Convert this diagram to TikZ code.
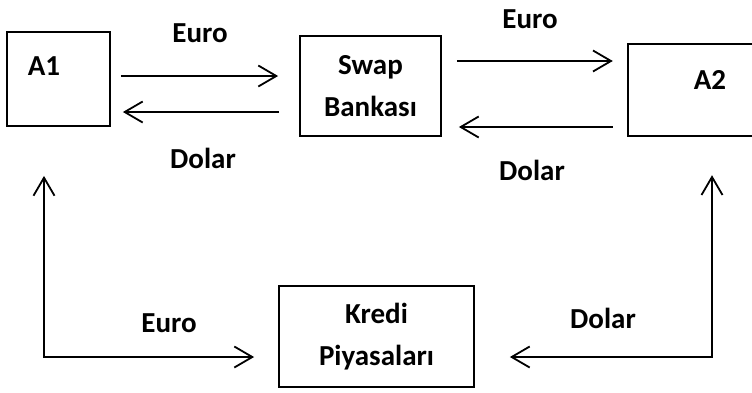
\documentclass[tikz,border=0pt]{standalone}
\usepackage{fontspec}
\setmainfont{Carlito}
\usetikzlibrary{arrows.meta}
\begin{document}
\begin{tikzpicture}[x=1pt,y=-1pt,
  lw/.style={line width=1.8pt},
  box/.style={draw,lw,inner sep=0pt,font=\bfseries\fontsize{29}{42}\selectfont,align=center},
  lbl/.style={inner sep=0pt,font=\bfseries\fontsize{29}{33}\selectfont},
  arr/.style={lw,-{Straight Barb[length=18pt,width=21pt,line width=1.8pt]}},
  darr/.style={lw,{Straight Barb[length=18pt,width=21pt,line width=1.8pt]}-{Straight Barb[length=18pt,width=21pt,line width=1.8pt]}}]
\useasboundingbox (0,0) rectangle (752,392);
% boxes
\node[box,minimum width=103pt,minimum height=94pt] (a1) at (58.5,79) {};
\node[lbl] (a1t) at (44,66) {A1};
\node[box,minimum width=141pt,minimum height=100pt] (swap) at (370.5,86) {Swap\\Bankası};
\node[minimum width=152pt,minimum height=92pt,inner sep=0pt] (a2) at (704,90) {};
\draw[lw] (a2.north east) -- (a2.north west) -- (a2.south west) -- (a2.south east);
\node[lbl] (a2t) at (710,80) {A2};
\node[box,minimum width=195pt,minimum height=101pt] (kredi) at (376.5,336.5) {Kredi\\Piyasaları};
% connectors
\draw[arr] ([xshift=10pt,yshift=3pt]a1.east) -- ([xshift=-21pt,yshift=10pt]swap.west);
\draw[arr] ([xshift=-20pt,yshift=-26pt]swap.west) -- ([xshift=12pt,yshift=-33pt]a1.east);
\draw[arr] ([xshift=15pt,yshift=25pt]swap.east) -- ([xshift=-15pt,yshift=29pt]a2.west);
\draw[arr] ([xshift=-15pt,yshift=-37pt]a2.west) -- ([xshift=17pt,yshift=-41pt]swap.east);
\draw[darr] ([xshift=-14.5pt,yshift=-49pt]a1.south) |- ([xshift=-24pt,yshift=-20.5pt]kredi.west);
\draw[darr] ([xshift=8pt,yshift=-39pt]a2.south) |- ([xshift=35pt,yshift=-20.5pt]kredi.east);
% labels
\node[lbl] (l1) at (200,33) {Euro};
\node[lbl] (l2) at (203,158) {Dolar};
\node[lbl] (l3) at (530,19) {Euro};
\node[lbl] (l4) at (532,170) {Dolar};
\node[lbl] (l5) at (169,323) {Euro};
\node[lbl] (l6) at (603,318) {Dolar};
\end{tikzpicture}
\end{document}
